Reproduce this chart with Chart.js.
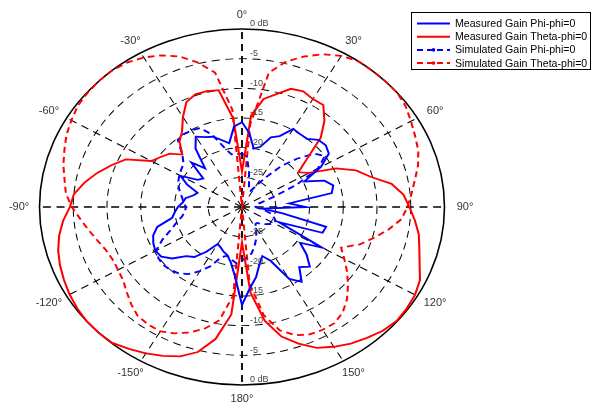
<!DOCTYPE html>
<html>
<head>
<meta charset="utf-8">
<script src="https://cdn.jsdelivr.net/npm/chart.js@4.4.1/dist/chart.umd.min.js"></script>
<style>
  html, body { margin: 0; padding: 0; background: #fff; }
  #wrap { width: 592px; height: 412px; }
</style>
</head>
<body>
<div id="wrap"><canvas id="canvas" width="592" height="412"></canvas></div>
<script>
// angle of each sample, degrees clockwise from the top
const angles = [
  0, 5, 10, 15, 20, 25, 30, 35, 40, 45, 50, 55,
  60, 65, 70, 75, 80, 85, 90, 95, 100, 105, 110, 115,
  120, 125, 130, 135, 140, 145, 150, 155, 160, 165, 170, 175,
  180, 185, 190, 195, 200, 205, 210, 215, 220, 225, 230, 235,
  240, 245, 250, 255, 260, 265, 270, 275, 280, 285, 290, 295,
  300, 305, 310, 315, 320, 325, 330, 335, 340, 345, 350, 355
];

// gains in dB
const measPhi = [
  -15.7, -17.5, -20, -19.5, -17.5, -16.8, -14.8, -15, -15, -14, -13.8, -14.3,
  -16.5, -19.8, -17, -16, -16.5, -23, -20.5, -27, -24, -17.1, -17.3, -24,
  -16.3, -19.5, -17.5, -15.8, -16.8, -14.6, -16, -20, -21.2, -20, -18, -16.3,
  -13.5, -18.2, -20.5, -21.6, -22, -22.5, -22.8, -20.8, -19, -18.3, -16.5, -15.4,
  -15.2, -15.5, -16, -17, -19.5, -20, -20.5, -21.2, -21.5, -22.5, -23, -21,
  -19.5, -22, -22.5, -19.4, -21.5, -18, -16.3, -17, -17.4, -18.3, -19.1, -16.4
];
const measTheta = [
  -24, -14.5, -11.5, -10.3, -8.8, -8.5, -9, -9, -11, -13.5, -17.5, -19.8,
  -18.5, -14.6, -12, -10.3, -7.5, -6, -5.2, -4.3, -3.4, -2.8, -2, -0.9,
  -0.4, -0.2, -0.1, -0.5, -1.2, -1.9, -2.8, -3.8, -5.5, -7.4, -10.5, -15.5,
  -24, -11.8, -7.4, -4.7, -3.2, -2.3, -1.5, -0.8, -0.1, 0, 0, -0.2,
  -0.5, -0.9, -1.3, -1.8, -2.5, -3.4, -4.5, -5, -6.3, -7.8, -9.4, -11,
  -14.5, -15.3, -16, -17.5, -15.6, -14.5, -12.5, -10.5, -9.8, -9.8, -10, -15
];
const simPhi = [
  -21, -21.5, -24, -26, -27, -27, -26, -24, -21, -18.5, -16, -15,
  -17, -21, -25, -27, -28, -28, -28, -27.5, -26.5, -25.5, -25, -24.5,
  -24.5, -25, -25.5, -26, -26.5, -26.5, -26, -25, -24, -23, -22, -21.5,
  -21, -20.5, -21, -21.5, -21, -19, -17.5, -16.2, -15.4, -15, -14.8, -14.9,
  -15.3, -17, -18.8, -20, -21, -21.5, -21.7, -21.3, -21, -20.5, -20, -19.6,
  -19.3, -19, -18.7, -17.5, -15.2, -15, -15.1, -15.3, -17, -19.5, -21, -21
];
const simTheta = [
  -30, -16, -7, -4.6, -3, -1.6, -0.6, 0, 0, 0, 0, -0.4,
  -1.1, -1.7, -2.2, -3, -4, -4.8, -5.5, -6.3, -8, -9.8, -11.5, -13.8,
  -12.5, -11, -9.5, -8, -6.8, -6.1, -6.1, -6.3, -7, -8.5, -11.5, -17,
  -30, -15, -10.6, -8.8, -7.5, -6.5, -5.8, -5.8, -6, -6.8, -7.7, -8.5,
  -8.8, -8.9, -8.6, -7.9, -7, -6, -4.8, -3.8, -3.3, -2.6, -2, -1.3,
  -0.8, -0.3, -0.1, 0, 0, -0.3, -0.9, -1.8, -3, -4.8, -7, -13.5
];

const angleTicks = [0, 30, 60, 90, 120, 150, 180, 210, 240, 270, 300, 330];
const angleTickLabels = ['0°', '30°', '60°', '90°', '120°', '150°', '180°', '-150°', '-120°', '-90°', '-60°', '-30°'];
const ringValues = [-25, -20, -15, -10, -5, 0];
const ringLabels = ['-25', '-20', '-15', '-10', '-5', '0 dB'];

// the reference polar plot is wider than tall
const X_STRETCH = 1.1376;
const FONT = '"Liberation Sans", Arial, Helvetica, sans-serif';

const polarFrame = {
  id: 'polarFrame',
  beforeDraw(chart) {
    const s = chart.scales.r;
    const ctx = chart.ctx;
    ctx.save();
    ctx.translate(s.xCenter, 0);
    ctx.scale(X_STRETCH, 1);
    ctx.translate(-s.xCenter, 0);
  },
  afterDatasetsDraw(chart) {
    chart.ctx.restore();
  },
  afterDraw(chart) {
    const s = chart.scales.r;
    const ctx = chart.ctx;
    const sx = x => s.xCenter + (x - s.xCenter) * X_STRETCH;
    ctx.save();

    // angle labels
    ctx.font = '11px ' + FONT;
    ctx.fillStyle = '#333';
    ctx.textAlign = 'center';
    ctx.textBaseline = 'middle';
    angleTicks.forEach((a, k) => {
      const i = angles.indexOf(a);
      const ph = s.getPointPosition(i, s.drawingArea + 18);
      const pv = s.getPointPosition(i, s.drawingArea + 14);
      ctx.fillText(angleTickLabels[k], sx(ph.x), pv.y);
    });

    // ring labels, top and bottom
    ctx.font = '9px ' + FONT;
    ctx.fillStyle = '#444';
    ctx.textAlign = 'left';
    ringValues.forEach((v, k) => {
      const d = s.getDistanceFromCenterForValue(v);
      ctx.fillText(ringLabels[k], s.xCenter + 8, s.yCenter - d - 5);
      ctx.fillText(ringLabels[k], s.xCenter + 8, s.yCenter + d - 5);
    });

    // legend box
    const lx = 411, ly = 12, lw = 179, lh = 57;
    ctx.fillStyle = '#fff';
    ctx.fillRect(lx, ly, lw, lh);
    ctx.strokeStyle = '#000';
    ctx.lineWidth = 1;
    ctx.strokeRect(lx + 0.5, ly + 0.5, lw, lh);
    ctx.font = '10.6px ' + FONT;
    chart.data.datasets.forEach((ds, k) => {
      const y = 23.5 + k * 13.2;
      ctx.strokeStyle = ds.borderColor;
      ctx.lineWidth = 2;
      ctx.setLineDash(ds.borderDash || []);
      ctx.beginPath();
      ctx.moveTo(417, y);
      ctx.lineTo(450, y);
      ctx.stroke();
      ctx.setLineDash([]);
      if (ds.borderDash && ds.borderDash.length) {
        ctx.fillStyle = ds.borderColor;
        ctx.beginPath();
        ctx.arc(433.5, y, 1.8, 0, Math.PI * 2);
        ctx.fill();
      }
      ctx.fillStyle = '#000';
      ctx.textBaseline = 'middle';
      ctx.fillText(ds.label, 455, y + 0.5);
    });
    ctx.restore();
  }
};

new Chart('canvas', {
  type: 'radar',
  data: {
    labels: angles.map(a => (a <= 180 ? a : a - 360) + '°'),
    datasets: [
      { label: 'Measured Gain Phi-phi=0', data: measPhi, borderColor: '#0000ff', borderWidth: 1.8 },
      { label: 'Measured Gain Theta-phi=0', data: measTheta, borderColor: '#ff0000', borderWidth: 1.8 },
      { label: 'Simulated Gain Phi-phi=0', data: simPhi, borderColor: '#0000ff', borderWidth: 1.8, borderDash: [6, 4] },
      { label: 'Simulated Gain Theta-phi=0', data: simTheta, borderColor: '#ff0000', borderWidth: 1.8, borderDash: [6, 4] }
    ]
  },
  options: {
    responsive: false,
    animation: false,
    layout: { padding: { top: 29, bottom: 27, left: 64, right: 172 } },
    plugins: { legend: { display: false }, tooltip: { enabled: false } },
    elements: {
      point: { radius: 0, hoverRadius: 0 },
      line: { fill: false, tension: 0 }
    },
    datasets: { radar: { clip: false } },
    scales: {
      r: {
        min: -30,
        max: 0,
        startAngle: 0,
        ticks: { stepSize: 5, display: false },
        grid: {
          circular: true,
          color: '#000',
          lineWidth: c => (c.index === 6 ? 1.4 : 0.9)
        },
        border: { dash: c => (c.index === 6 ? [] : [7, 5]) },
        angleLines: {
          display: true,
          color: '#000',
          lineWidth: c => (c.index % 18 === 0 ? 1.6 : (c.index % 6 === 0 ? 0.9 : 0)),
          borderDash: [7, 5]
        },
        pointLabels: { display: false }
      }
    }
  },
  plugins: [polarFrame]
});
</script>
</body>
</html>
